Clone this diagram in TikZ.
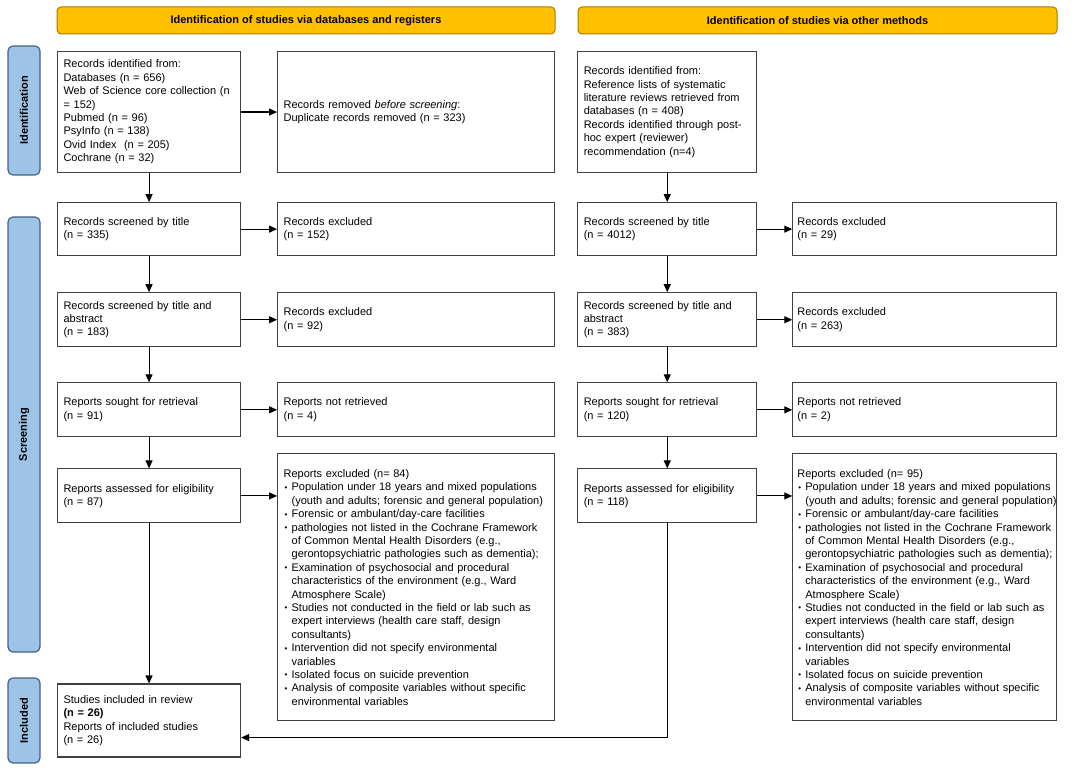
\documentclass[tikz,border=0pt]{standalone}
\usepackage{fontspec}
\setmainfont{Liberation Sans}
\usepackage{xcolor}
\definecolor{hdrfill}{HTML}{FFC000}
\definecolor{hdrline}{HTML}{A67C00}
\definecolor{sidefill}{HTML}{9DC3E6}
\definecolor{sideline}{HTML}{41618A}
\usepackage{tikz}
\usetikzlibrary{arrows.meta,positioning}
\newcommand{\fs}{\fontsize{11}{13.4}\selectfont}
\newcommand{\bl}[1]{\mbox{\makebox[8pt][l]{\hspace{1pt}\raisebox{0.6pt}{\fontsize{8}{8}\selectfont\textbullet}}#1}}
\newcommand{\hg}[1]{\mbox{\hspace*{8pt}#1}}
\newcommand{\exclist}{%
     \bl{Population under 18 years and mixed populations}\\
     \hg{(youth and adults; forensic and general population)}\\
     \bl{Forensic or ambulant/day-care facilities}\\
     \bl{pathologies not listed in the Cochrane Framework}\\
     \hg{of Common Mental Health Disorders (e.g.,}\\
     \hg{gerontopsychiatric pathologies such as dementia);}\\
     \bl{Examination of psychosocial and procedural}\\
     \hg{characteristics of the environment (e.g., Ward}\\
     \hg{Atmosphere Scale)}\\
     \bl{Studies not conducted in the field or lab such as}\\
     \hg{expert interviews (health care staff, design}\\
     \hg{consultants)}\\
     \bl{Intervention did not specify environmental}\\
     \hg{variables}\\
     \bl{Isolated focus on suicide prevention}\\
     \bl{Analysis of composite variables without specific}\\
     \hg{environmental variables}}
\tikzset{
  pb/.style={draw=black!75, line width=1.1pt, align=left, font=\fs,
             inner xsep=6pt, inner ysep=2pt},
  pmain/.style={pb, text width=171pt, minimum width=183pt},
  pside/.style={pb, text width=265pt, minimum width=277pt},
  rmain/.style={pb, text width=167pt, minimum width=179pt},
  rside/.style={pb, inner xsep=4.5pt, text width=255pt, minimum width=264pt},
  hdr/.style={draw=hdrline, fill=hdrfill, rounded corners=4pt, line width=1pt,
              font=\fs\bfseries, minimum height=27pt},
  sidebar/.style={draw=sideline, fill=sidefill, rounded corners=5pt, line width=1.2pt,
                  font=\fs\bfseries, rotate=90, minimum height=32pt},
  ar/.style={-{Triangle[length=8pt,width=7pt]}, draw=black, line width=1.1pt},
}

\begin{document}
\begin{tikzpicture}
  \useasboundingbox (0,0) rectangle (1084pt,770pt);
  \node[hdr, minimum width=498pt] (hl) at (306pt,749.5pt) {Identification of studies via databases and registers};
  \node[hdr, minimum width=479pt] (hr) at (817.5pt,749.5pt) {Identification of studies via other methods};
  \node[sidebar, minimum width=129pt] (sid) at (24pt,659.5pt) {Identification};
  \node[sidebar, minimum width=435pt] (ssc) at (24pt,335.5pt) {Screening};
  \node[sidebar, minimum width=85pt] (sin) at (24pt,49.5pt) {Included};

  \node[pmain, minimum height=121pt, anchor=north west] (idl) at (57pt,719pt)
    {Records identified from:\\Databases (n = 656)\\Web of Science core collection (n\\= 152)\\Pubmed (n = 96)\\PsyInfo (n = 138)\\Ovid Index\ \ (n = 205)\\Cochrane (n = 32)};
  \node[pside, minimum height=121pt, right=36pt of idl] (rem)
    {Records removed \textit{before screening}:\\Duplicate records removed (n = 323)};
  \node[rmain, minimum height=121pt, right=22pt of rem] (idr)
    {Records identified from:\\Reference lists of systematic\\literature reviews retrieved from\\databases (n = 408)\\Records identified through post-\\hoc expert (reviewer)\\recommendation (n=4)};

  \node[pmain, minimum height=53pt, below=29pt of idl] (scl) {Records screened by title\\(n = 335)};
  \node[pside, minimum height=53pt, right=36pt of scl] (exl) {Records excluded\\(n = 152)};
  \node[rmain, minimum height=53pt, below=29pt of idr] (scr) {Records screened by title\\(n = 4012)};
  \node[rside, minimum height=53pt, right=35pt of scr] (exr) {Records excluded\\(n = 29)};

  \node[pmain, minimum height=54pt, below=36pt of scl] (tal) {Records screened by title and\\abstract\\(n = 183)};
  \node[pside, minimum height=54pt, right=36pt of tal] (exl2) {Records excluded\\(n = 92)};
  \node[rmain, minimum height=54pt, below=36pt of scr] (tar) {Records screened by title and\\abstract\\(n = 383)};
  \node[rside, minimum height=54pt, right=35pt of tar] (exr2) {Records excluded\\(n = 263)};

  \node[pmain, minimum height=54pt, below=35pt of tal] (sgl) {Reports sought for retrieval\\(n = 91)};
  \node[pside, minimum height=54pt, right=36pt of sgl] (nrl) {Reports not retrieved\\(n = 4)};
  \node[rmain, minimum height=54pt, below=35pt of tar] (sgr) {Reports sought for retrieval\\(n = 120)};
  \node[rside, minimum height=54pt, right=35pt of sgr] (nrr) {Reports not retrieved\\(n = 2)};

  \node[pmain, minimum height=54pt, below=31pt of sgl] (asl) {Reports assessed for eligibility\\(n = 87)};
  \node[rmain, minimum height=54pt, below=31pt of sgr] (asr) {Reports assessed for eligibility\\(n = 118)};
  \node[pside, minimum height=267pt, below=16pt of nrl] (rxl) {Reports excluded (n= 84)\\\exclist};
  \node[rside, minimum height=267pt, below=16pt of nrr] (rxr) {Reports excluded (n= 95)\\\exclist};
  \node[pmain, minimum height=73pt, below=160pt of asl] (inc)
    {Studies included in review\\\textbf{(n = 26)}\\Reports of included studies\\(n = 26)};

  \draw[ar] (idl) -- (rem);
  \draw[ar] (idl) -- (scl);
  \draw[ar] (scl) -- (exl);
  \draw[ar] (scl) -- (tal);
  \draw[ar] (tal) -- (exl2);
  \draw[ar] (tal) -- (sgl);
  \draw[ar] (sgl) -- (nrl);
  \draw[ar] (sgl) -- (asl);
  \draw[ar] (asl.east) -- (asl.east -| rxl.west);
  \draw[ar] (asl) -- (inc);
  \draw[ar] (idr) -- (scr);
  \draw[ar] (scr) -- (exr);
  \draw[ar] (scr) -- (tar);
  \draw[ar] (tar) -- (exr2);
  \draw[ar] (tar) -- (sgr);
  \draw[ar] (sgr) -- (nrr);
  \draw[ar] (sgr) -- (asr);
  \draw[ar] (asr.east) -- (asr.east -| rxr.west);
  \draw[ar] (asr.south) |- ([yshift=-17pt]inc.east);
\end{tikzpicture}
\end{document}
